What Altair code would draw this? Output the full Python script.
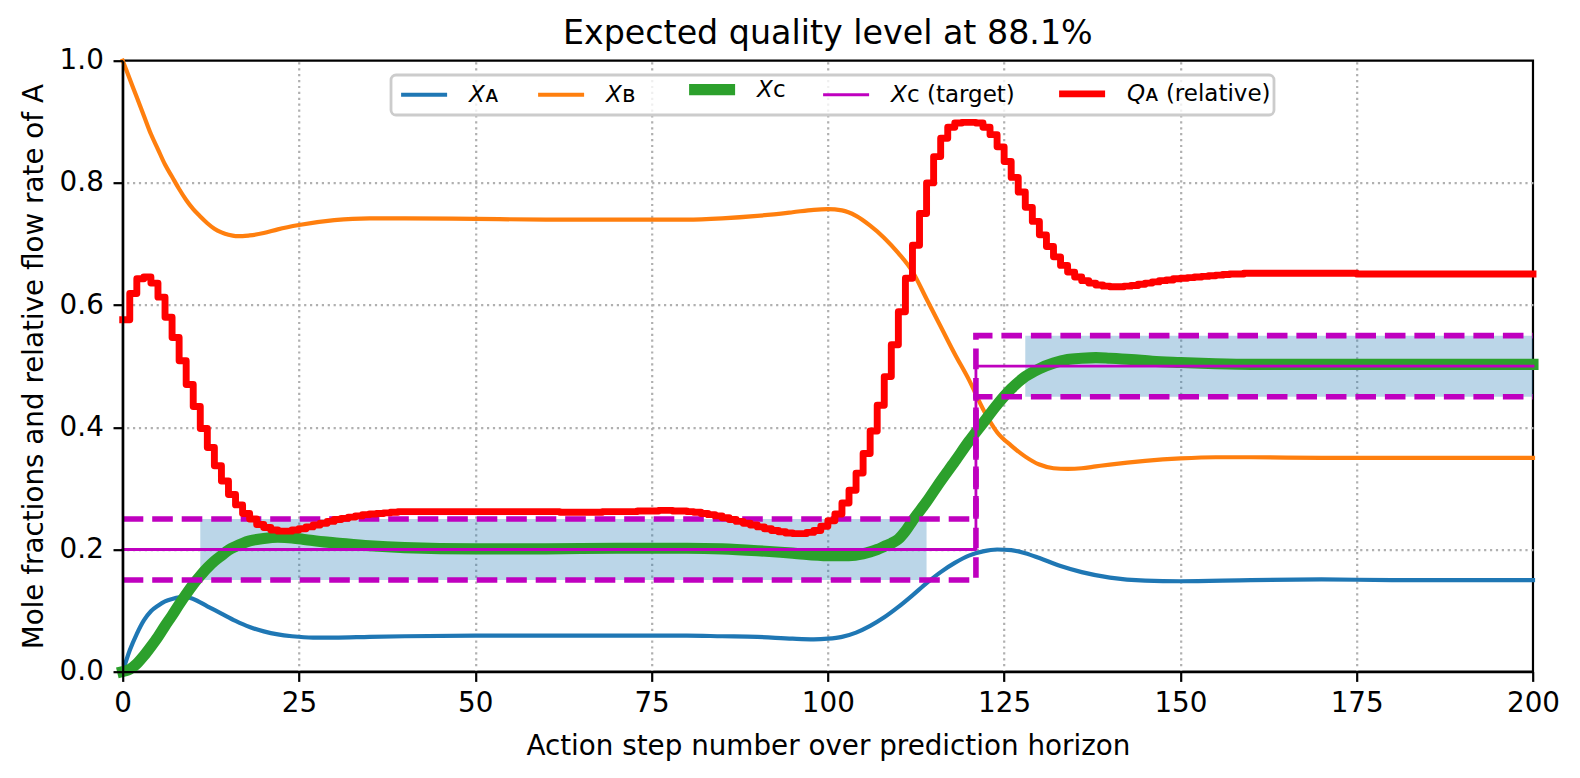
import altair as alt
import pandas as pd

# ---------------- data ----------------
x_ticks = [0, 25, 50, 75, 100, 125, 150, 175, 200]
y_ticks = [0.0, 0.2, 0.4, 0.6, 0.8, 1.0]
x_grid = [25, 50, 75, 100, 125, 150, 175]
y_grid = [0.2, 0.4, 0.6, 0.8]

series_names = ["\U0001D61F\u1D00", "\U0001D61F\u0299", "\U0001D61F\u1D04",
                "\U0001D61F\u1D04 (target)", "\U0001D618\u1D00 (relative)"]

# relative flow rate of A, one value per action step 0..200 (step plot)
q_steps = list(range(0, 201))
q_rel = [
    0.576, 0.619, 0.643, 0.646, 0.636, 0.613, 0.580, 0.547, 0.509, 0.470,
    0.434, 0.398, 0.367, 0.337, 0.312, 0.290, 0.273, 0.259, 0.250, 0.241,
    0.236, 0.232, 0.230, 0.230, 0.232, 0.234, 0.237, 0.240, 0.243, 0.246,
    0.249, 0.251, 0.253, 0.255, 0.257, 0.258, 0.259, 0.260, 0.261, 0.262,
    0.262, 0.262, 0.262, 0.262, 0.262, 0.262, 0.262, 0.262, 0.262, 0.262,
    0.262, 0.262, 0.262, 0.262, 0.262, 0.262, 0.262, 0.262, 0.262, 0.262,
    0.262, 0.262, 0.261, 0.261, 0.261, 0.261, 0.261, 0.261, 0.262, 0.262,
    0.262, 0.262, 0.262, 0.263, 0.263, 0.263, 0.264, 0.264, 0.263, 0.263,
    0.262, 0.261, 0.259, 0.257, 0.255, 0.252, 0.249, 0.246, 0.243, 0.240,
    0.237, 0.234, 0.231, 0.229, 0.227, 0.226, 0.226, 0.228, 0.231, 0.238,
    0.247, 0.258, 0.276, 0.297, 0.325, 0.357, 0.394, 0.436, 0.483, 0.535,
    0.589, 0.644, 0.698, 0.750, 0.800, 0.843, 0.873, 0.891, 0.898, 0.899,
    0.899, 0.898, 0.891, 0.879, 0.859, 0.835, 0.809, 0.785, 0.760, 0.737,
    0.715, 0.696, 0.679, 0.665, 0.654, 0.646, 0.640, 0.636, 0.633, 0.631,
    0.630, 0.630, 0.631, 0.632, 0.634, 0.636, 0.638, 0.640, 0.641, 0.643,
    0.644, 0.645, 0.646, 0.647, 0.648, 0.649, 0.650, 0.651, 0.651, 0.652,
    0.652, 0.652, 0.652, 0.652, 0.652, 0.652, 0.652, 0.652, 0.652, 0.652,
    0.652, 0.652, 0.652, 0.652, 0.652, 0.651, 0.651, 0.651, 0.651, 0.651,
    0.651, 0.651, 0.651, 0.651, 0.651, 0.651, 0.651, 0.651, 0.651, 0.651,
    0.651, 0.651, 0.651, 0.651, 0.651, 0.651, 0.651, 0.651, 0.651, 0.651,
    0.651,
]

xa_x = [0, 1, 2, 3, 4, 5, 6, 7, 8, 9, 10, 12, 14, 16, 18, 20, 22, 24, 27, 30,
        35, 40, 50, 60, 70, 80, 85, 90, 95, 98, 100, 102, 104, 106, 108, 110,
        112, 114, 116, 118, 120, 122, 124, 126, 128, 130, 133, 136, 140, 145,
        150, 160, 170, 180, 200]
xa_y = [0.000, 0.035, 0.062, 0.084, 0.099, 0.108, 0.115, 0.119, 0.1215, 0.122,
        0.119, 0.107, 0.095, 0.083, 0.073, 0.066, 0.061, 0.058, 0.0557, 0.0557,
        0.057, 0.058, 0.059, 0.059, 0.059, 0.059, 0.058, 0.057, 0.054, 0.053,
        0.054, 0.057, 0.064, 0.075, 0.089, 0.106, 0.125, 0.145, 0.163, 0.178,
        0.190, 0.197, 0.200, 0.199, 0.194, 0.186, 0.173, 0.163, 0.154, 0.149,
        0.148, 0.150, 0.151, 0.150, 0.150]

xb_x = [0, 1, 2, 3, 4, 5, 6, 7, 8, 9, 10, 11, 12, 13, 14, 15, 16, 17, 18, 20,
        22, 25, 30, 35, 40, 50, 60, 70, 80, 85, 90, 95, 98, 100, 102, 104, 106,
        108, 110, 112, 114, 116, 118, 120, 122, 124, 126, 128, 130, 132, 134,
        136, 138, 140, 145, 150, 155, 160, 170, 180, 200]
xb_y = [1.000, 0.970, 0.940, 0.910, 0.880, 0.855, 0.830, 0.810, 0.790, 0.772,
        0.757, 0.745, 0.734, 0.725, 0.719, 0.715, 0.713, 0.713, 0.714, 0.718,
        0.724, 0.731, 0.739, 0.742, 0.742, 0.741, 0.740, 0.740, 0.740, 0.742,
        0.746, 0.752, 0.756, 0.757, 0.755, 0.746, 0.730, 0.710, 0.685, 0.655,
        0.610, 0.565, 0.520, 0.478, 0.430, 0.392, 0.370, 0.352, 0.339, 0.333,
        0.332, 0.333, 0.336, 0.339, 0.345, 0.349, 0.351, 0.351, 0.350, 0.350,
        0.350]

xc_x = [0, 1, 2, 3, 4, 5, 6, 7, 8, 9, 10, 11, 12, 13, 14, 15, 16, 17, 18, 20,
        22, 24, 26, 28, 30, 35, 40, 50, 60, 70, 80, 85, 90, 95, 100, 103, 105,
        106, 107, 108, 109, 110, 111, 112, 114, 116, 118, 120, 122, 124, 126,
        128, 130, 132, 134, 136, 138, 140, 143, 146, 150, 155, 160, 170, 200]
xc_y = [0.000, 0.004, 0.013, 0.026, 0.041, 0.057, 0.075, 0.092, 0.110, 0.127,
        0.143, 0.157, 0.170, 0.181, 0.190, 0.199, 0.205, 0.210, 0.214, 0.218,
        0.220, 0.219, 0.216, 0.213, 0.211, 0.206, 0.203, 0.201, 0.201, 0.202,
        0.202, 0.201, 0.198, 0.194, 0.190, 0.190, 0.193, 0.196, 0.200, 0.205,
        0.210, 0.217, 0.230, 0.247, 0.278, 0.312, 0.344, 0.377, 0.407, 0.437,
        0.463, 0.483, 0.496, 0.505, 0.511, 0.513, 0.514, 0.513, 0.511, 0.508,
        0.506, 0.504, 0.503, 0.503, 0.503]

# set point changes at action step 121
switch_x = [0, 121, 200]
target_y = [0.20, 0.50, 0.50]
lower_y = [0.15, 0.45, 0.45]
upper_y = [0.25, 0.55, 0.55]

# shaded windows
band_x1 = [11, 128]
band_x2 = [114, 200]
band_lo = [0.15, 0.45]
band_hi = [0.25, 0.55]

# ---------------- styles ----------------
FONT = "DejaVu Sans"
colors = ["#1f77b4", "#ff7f0e", "#2ca02c", "#bf00bf", "#ff0000"]
widths = [4.2, 4.2, 11.1, 2.8, 6.9]
MAGENTA = "#bf00bf"

x_title = "Action step number over prediction horizon"
y_title = "Mole fractions and relative flow rate of A"
x_scale = alt.Scale(domain=[0, 200], nice=False, zero=False)
y_scale = alt.Scale(domain=[0, 1], nice=False, zero=False)

x_axis_main = alt.Axis(orient="bottom", values=x_ticks, grid=False, labelPadding=8.3,
                       titlePadding=15, labelFlush=False, zindex=1)
y_axis_main = alt.Axis(orient="left", values=y_ticks, format=".1f", grid=False,
                       labelPadding=9.7, titlePadding=11, labelFlush=False, zindex=1)
x_axis_grid = alt.Axis(orient="top", values=x_grid, grid=True, domain=False, ticks=False,
                       labels=False, title=None, zindex=0)
y_axis_grid = alt.Axis(orient="right", values=y_grid, grid=True, domain=False, ticks=False,
                       labels=False, title=None, zindex=0)

legend = alt.Legend(
    title=None, orient="none", legendX=268.3, legendY=14.3,
    direction="horizontal", columns=5,
    symbolType="M-0.88,0H8.32", symbolSize=100,
    labelFont=FONT, labelFontSize=23, labelColor="black", labelOffset=52,
    columnPadding=30, padding=3,
    fillColor="rgba(255,255,255,0.8)", strokeColor="#cccccc", cornerRadius=5,
)


def X(field, axis=None):
    if axis is None:
        return alt.X(f"{field}:Q", scale=x_scale, axis=None)
    return alt.X(f"{field}:Q", scale=x_scale, axis=axis, title=x_title)


def Y(field, axis=None):
    if axis is None:
        return alt.Y(f"{field}:Q", scale=y_scale, axis=None)
    return alt.Y(f"{field}:Q", scale=y_scale, axis=axis, title=y_title)


color_enc = alt.Color("series:N", scale=alt.Scale(domain=series_names, range=colors), legend=legend)
width_enc = alt.StrokeWidth("series:N", scale=alt.Scale(type="ordinal", domain=series_names, range=widths),
                            legend=legend)

band_df = pd.DataFrame({"x1": band_x1, "x2": band_x2, "lo": band_lo, "hi": band_hi})
bands = alt.Chart(band_df).mark_rect(color="#1f77b4", opacity=0.3).encode(
    x=X("x1", x_axis_grid), x2="x2", y=Y("lo", y_axis_grid), y2="hi"
)


def curve(xs, ys, name, interp, xaxis=None, yaxis=None):
    df = pd.DataFrame({"x": xs, "y": ys, "series": name})
    return alt.Chart(df).mark_line(interpolate=interp, strokeJoin="round", strokeCap="square").encode(
        x=X("x", xaxis), y=Y("y", yaxis), color=color_enc, strokeWidth=width_enc
    )


line_a = curve(xa_x, xa_y, series_names[0], "monotone", x_axis_main, y_axis_main)
line_b = curve(xb_x, xb_y, series_names[1], "monotone")
line_c = curve(xc_x, xc_y, series_names[2], "monotone")
line_t = curve(switch_x, target_y, series_names[3], "step-after")
line_q = curve(q_steps, q_rel, series_names[4], "step-after")

bounds_df = pd.concat([
    pd.DataFrame({"x": switch_x, "y": lower_y, "which": "lower"}),
    pd.DataFrame({"x": switch_x, "y": upper_y, "which": "upper"}),
])
bounds = alt.Chart(bounds_df).mark_line(
    interpolate="step-after", color=MAGENTA, strokeWidth=5.6, strokeDash=[20.6, 8.9]
).encode(x=X("x"), y=Y("y"), detail="which:N")

chart = alt.layer(bands, line_a, line_b, line_c, line_t, bounds, line_q).resolve_axis(
    x="independent", y="independent"
).properties(
    width=1410.3, height=611,
    title=alt.TitleParams(
        "Expected quality level at 88.1%", anchor="middle", frame="group",
        font=FONT, fontSize=33.3, fontWeight="normal", color="black", offset=-4.3,
    ),
    autosize=alt.AutoSizeParams(type="none"),
    padding={"left": 114.7, "top": 52.7, "right": 39, "bottom": 95},
    background="white",
).configure_view(
    stroke="black", strokeWidth=2.2
).configure_axis(
    domainColor="black", domainWidth=2.2, tickColor="black", tickWidth=2.2, tickSize=9.7,
    labelFont=FONT, labelFontSize=27.8, labelColor="black",
    titleFont=FONT, titleFontSize=27.8, titleFontWeight="normal", titleColor="black",
    gridColor="#b0b0b0", gridDash=[2.2, 3.7], gridWidth=2.2, gridOpacity=1,
).configure_legend(
    strokeWidth=2.8
)

chart.save("out.html", embed_options={"renderer": "svg", "actions": False})
